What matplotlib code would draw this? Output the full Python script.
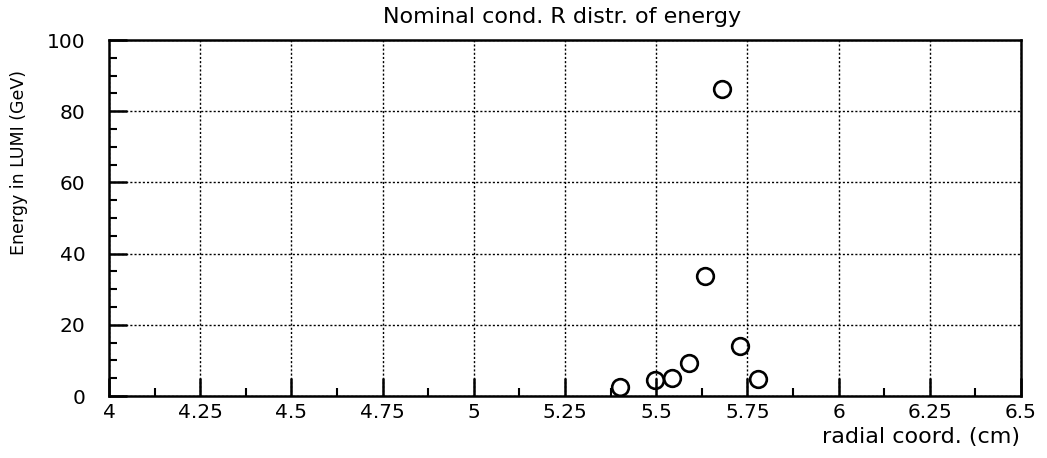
import matplotlib
matplotlib.use("Agg")
import matplotlib.pyplot as plt
from matplotlib.ticker import MultipleLocator, FixedFormatter, FixedLocator

plt.rcParams['font.family'] = ['DejaVu Sans']

# data
radial = [5.40, 5.497, 5.543, 5.590, 5.635, 5.680, 5.730, 5.780]
energy = [2.5, 4.5, 5.1, 9.2, 33.8, 86.2, 14.0, 4.8]

xticks = [4, 4.25, 4.5, 4.75, 5, 5.25, 5.5, 5.75, 6, 6.25, 6.5]
xticklabels = ["4", "4.25", "4.5", "4.75", "5", "5.25", "5.5", "5.75", "6", "6.25", "6.5"]
yticks = [0, 20, 40, 60, 80, 100]

fig = plt.figure(figsize=(10.47, 4.58), dpi=100)
ax = fig.add_axes([109/1047, 1-396/458, (1021-109)/1047, (396-40)/458])

ax.plot(radial, energy, linestyle='none', marker='o', markersize=12,
        markerfacecolor='none', markeredgecolor='black', markeredgewidth=1.9, zorder=3)

ax.set_xlim(4, 6.5)
ax.set_ylim(0, 100)
ax.xaxis.set_major_locator(FixedLocator(xticks))
ax.xaxis.set_major_formatter(FixedFormatter(xticklabels))
ax.xaxis.set_minor_locator(MultipleLocator(0.125))
ax.yaxis.set_major_locator(FixedLocator(yticks))
ax.yaxis.set_minor_locator(MultipleLocator(5))

ax.grid(True, which='major', color='black', linestyle=(0, (1.5, 1.5)), linewidth=1.0)
ax.tick_params(axis='both', which='major', direction='in', length=13, width=1.8,
               labelsize=14.5, colors='black')
ax.tick_params(axis='both', which='minor', direction='in', length=6, width=1.5)
ax.tick_params(axis='x', which='both', top=False, pad=5)
ax.tick_params(axis='y', which='both', right=False, pad=17)
for s in ax.spines.values():
    s.set_linewidth(1.8)
    s.set_color('black')

fig.text(562/1047, 1-17/458, "Nominal cond. R distr. of energy", ha='center', va='center', fontsize=16)
fig.text(1020/1047, 1-437/458, "radial coord. (cm)", ha='right', va='center', fontsize=16)
fig.text(19/1047, 1-70/458, "Energy in LUMI (GeV)", ha='center', va='top', rotation=90, fontsize=12.5)

fig.savefig("out.png", dpi=100)
